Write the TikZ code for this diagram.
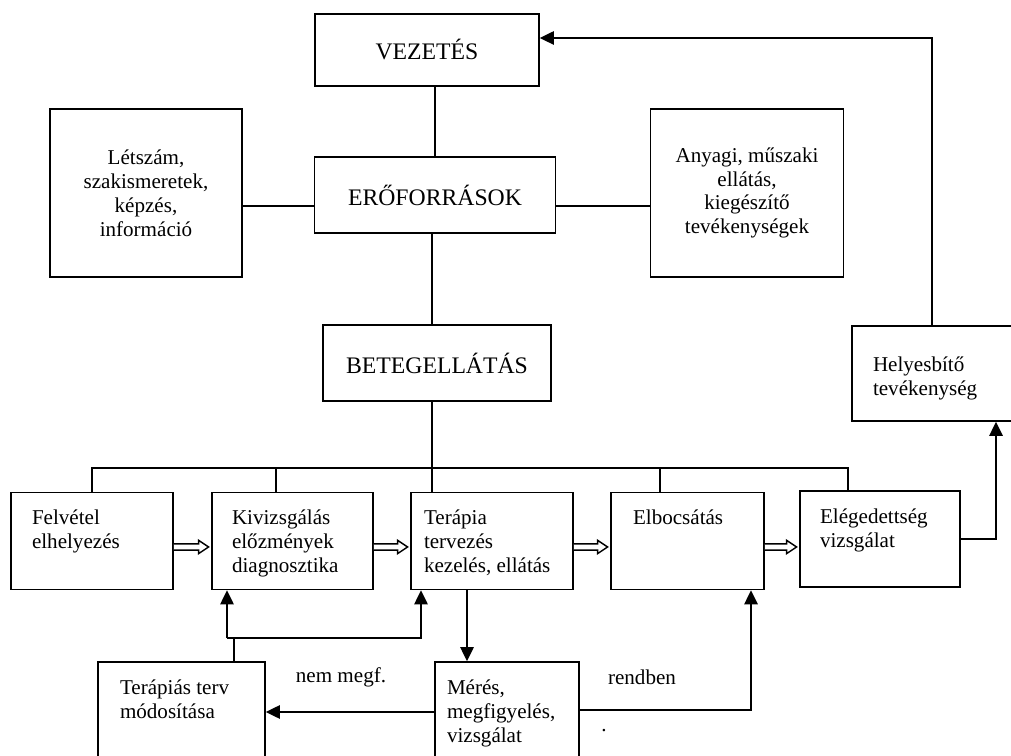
\documentclass[tikz,border=0pt]{standalone}
\usepackage{fontspec}
\setmainfont{Liberation Serif}
\usetikzlibrary{arrows.meta, calc, positioning}

\newlength{\pxu}
\setlength{\pxu}{0.02cm}
% text box with text at the top left: [top pad]{width}{height}{left pad}{text}
\newcommand{\boxtxt}[5][10pt]{\parbox[c][#3\pxu][t]{#2\pxu}{\vspace*{#1}\raggedright\leftskip=#4\pxu\relax #5}}
% open block arrow between two boxes
\newcommand{\hollowarrow}[2]{%
  \draw[hollow] let \p1=(#1.east), \p2=(#2.west) in
    (\x1,\y1-1.6pt) -- (\x2-7.2pt,\y1-1.6pt) -- (\x2-7.2pt,\y1+0.4pt)
    -- (\x2-1.5pt,\y1-3.4pt) -- (\x2-7.2pt,\y1-7.2pt) -- (\x2-7.2pt,\y1-5.2pt)
    -- (\x1,\y1-5.2pt);}

\begin{document}
\begin{tikzpicture}[x=0.02cm, y=-0.02cm,
    every node/.style={font=\fontsize{12}{13.6}\selectfont},
    cell/.style={draw, line width=0.9pt, inner sep=0pt},
    big/.style={font=\fontsize{13.5}{16}\selectfont},
    line/.style={line width=0.8pt},
    arrowline/.style={line width=1.3pt, -{Triangle[length=8pt,width=7.5pt]}},
    hollow/.style={line width=0.8pt, fill=white}]
    \useasboundingbox (0,0) rectangle (1011,756);
    \clip (0,0) rectangle (1011,756);

    % upper part
    \node[cell, big, minimum width=224\pxu, minimum height=72\pxu] (vez) at (427,50) {VEZETÉS};
    \node[cell, big, minimum width=241\pxu, minimum height=76\pxu] (ero) at (435,195) {ERŐFORRÁSOK};
    \node[cell, align=center, minimum width=192\pxu, minimum height=168\pxu] (lts) at (146,193) {Létszám,\\szakismeretek,\\képzés,\\információ};
    \node[cell, align=center, minimum width=193\pxu, minimum height=168\pxu] (any) at (747,193) {Anyagi, műszaki\\ellátás,\\kiegészítő\\tevékenységek};
    \node[cell, big, minimum width=228\pxu, minimum height=76\pxu] (beteg) at (437,363) {BETEGELLÁTÁS};
    \node[cell] (helyes) at (946,373.5) {\boxtxt[17.7pt]{188}{95}{21}{Helyesbítő\\tevékenység}};

    % process row
    \node[cell] (felv) at (92,541) {\boxtxt{162}{97}{21}{Felvétel\\elhelyezés}};
    \node[cell] (kiv) at (292.5,541) {\boxtxt{161}{97}{20}{Kivizsgálás\\előzmények\\diagnosztika}};
    \node[cell] (ter) at (492,541) {\boxtxt{162}{97}{13}{Terápia\\tervezés\\kezelés, ellátás}};
    \node[cell] (elb) at (687.5,541) {\boxtxt{153}{97}{22}{Elbocsátás}};
    \node[cell] (eleg) at (880,539) {\boxtxt{160}{96}{20}{Elégedettség\\vizsgálat}};

    % bottom
    \node[cell] (mod) at (181.5,717) {\boxtxt{167}{110}{22}{Terápiás terv\\módosítása}};
    \node[cell] (meres) at (507,717) {\boxtxt{144}{110}{12}{Mérés,\\megfigyelés,\\vizsgálat}};
    \node (nem) at (341,677) {nem megf.};
    \node (rend) at (642,677) {rendben};
    \node (dot) at (604,731) {.};

    \coordinate (hub) at (435,206);
    \coordinate (busL) at (92,468);
    \coordinate (busK) at (276,468);
    \coordinate (busT) at (432,468);
    \coordinate (busE) at (660,468);
    \coordinate (busR) at (848,468);
    \coordinate (fbT) at (932,38);
    \coordinate (fbR) at (996,539);
    \coordinate (tm) at (467,620);
    \coordinate (loopL) at (227,638);
    \coordinate (loopM) at (234,638);
    \coordinate (loopR) at (421,638);
    \coordinate (rowM) at (500,712);
    \coordinate (rb) at (751,710);

    \draw[line] (vez.south -| hub) -- (ero.north -| hub);
    \draw[line] (lts.east |- hub) -- (ero.west |- hub);
    \draw[line] (ero.east |- hub) -- (any.west |- hub);
    \draw[line] (ero.south -| busT) -- (beteg.north -| busT);
    \draw[line] (beteg.south -| busT) -- (ter.north -| busT);
    \draw[line] (felv.north) -- (busL) -- (busR) -- (eleg.north -| busR);
    \draw[line] (busK) -- (kiv.north -| busK);
    \draw[line] (busE) -- (elb.north -| busE);

    \hollowarrow{felv}{kiv}
    \hollowarrow{kiv}{ter}
    \hollowarrow{ter}{elb}
    \hollowarrow{elb}{eleg}

    \draw[arrowline] (helyes.north -| fbT) -- (fbT) -- (fbT -| vez.east);
    \draw[arrowline] (eleg.east |- fbR) -- (fbR) -- (helyes.south -| fbR);
    \draw[arrowline] (ter.south -| tm) -- (meres.north -| tm);
    \draw[line] (mod.north -| loopM) -- (loopM);
    \draw[arrowline] (loopL) -- (loopR) -- (ter.south -| loopR);
    \draw[arrowline] (loopL) -- (kiv.south -| loopL);
    \draw[arrowline] (meres.west |- rowM) -- (mod.east |- rowM);
    \draw[arrowline] (meres.east |- rb) -- (rb) -- (elb.south -| rb);
\end{tikzpicture}
\end{document}
